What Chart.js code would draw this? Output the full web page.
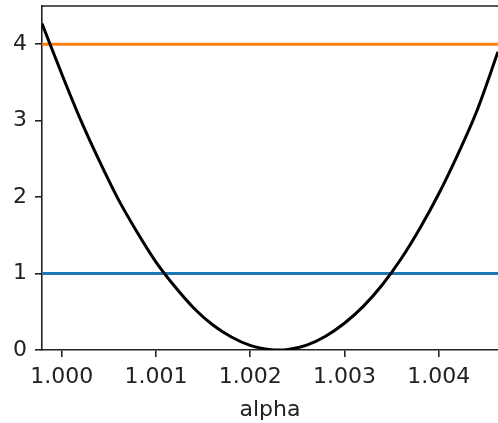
<!DOCTYPE html>
<html><head><meta charset="utf-8">
<script src="https://cdn.jsdelivr.net/npm/chart.js@4/dist/chart.umd.min.js"></script>
<style>html,body{margin:0;padding:0;background:#fff}#c{display:block}</style>
</head><body>
<div style="width:498px;height:423px"><canvas id="c" width="498" height="423"></canvas></div>
<script>
const alpha = [0.99979,1.0000,1.0002,1.0004,1.0006,1.0008,1.0010,1.0012,1.0014,1.0016,1.0018,1.0020,1.0022,1.0023,1.0024,1.0026,1.0028,1.0030,1.0032,1.0034,1.0036,1.0038,1.0040,1.0042,1.0044,1.00463];
const curve = [4.27,3.61,3.01,2.47,1.97,1.54,1.15,0.83,0.55,0.33,0.17,0.06,0.007,0,0.007,0.064,0.18,0.35,0.57,0.85,1.19,1.59,2.04,2.55,3.11,3.9];
const level1 = 1;
const level2 = 4;
const xTicks = [1.000,1.001,1.002,1.003,1.004];
const yTicks = [0,1,2,3,4];
const xMin = 0.99979, xMax = 1.00463, yMin = 0, yMax = 4.5;

const font = {family:'DejaVu Sans', size:22};
const topBorder = {
  id:'topBorder',
  afterDraw(chart){
    const {ctx, chartArea:a} = chart;
    ctx.save();
    ctx.strokeStyle = '#222'; ctx.lineWidth = 1.6;
    ctx.beginPath(); ctx.moveTo(a.left, a.top); ctx.lineTo(a.right+2, a.top); ctx.stroke();
    ctx.restore();
  }
};
new Chart(document.getElementById('c'), {
  type:'line',
  data:{datasets:[
    {data:alpha.map((a,i)=>({x:a,y:curve[i]})), borderColor:'#000', borderWidth:3, pointRadius:0, cubicInterpolationMode:'monotone', order:0},
    {data:[{x:xMin,y:level1},{x:xMax,y:level1}], borderColor:'#1f77b4', borderWidth:3, pointRadius:0, order:2},
    {data:[{x:xMin,y:level2},{x:xMax,y:level2}], borderColor:'#ff7f0e', borderWidth:3, pointRadius:0, order:1}
  ]},
  plugins:[topBorder],
  options:{
    responsive:false, animation:false,
    layout:{padding:{top:6,right:0,left:0,bottom:0}},
    plugins:{legend:{display:false}, tooltip:{enabled:false}},
    scales:{
      x:{type:'linear', min:xMin, max:xMax,
        afterBuildTicks:s=>{s.ticks = xTicks.map(v=>({value:v}));},
        afterFit:s=>{s.height = 73; s.paddingLeft=0; s.paddingRight=0;},
        ticks:{font, color:'#222', padding:7, maxRotation:0, callback:v=>Number(v).toFixed(3)},
        grid:{drawOnChartArea:false, drawTicks:true, tickLength:7, color:'#222', lineWidth:1.6},
        border:{display:true, color:'#222', width:1.6},
        title:{display:true, text:'alpha', font, color:'#222', padding:{top:0,bottom:0}}
      },
      y:{type:'linear', min:yMin, max:yMax,
        afterBuildTicks:s=>{s.ticks = yTicks.map(v=>({value:v}));},
        afterFit:s=>{s.width = 42; s.paddingTop=0; s.paddingBottom=0;},
        ticks:{font, color:'#222', padding:8, callback:v=>String(v)},
        grid:{drawOnChartArea:false, drawTicks:true, tickLength:7, color:'#222', lineWidth:1.6},
        border:{display:true, color:'#222', width:1.6}
      }
    }
  }
});
</script>
</body></html>
